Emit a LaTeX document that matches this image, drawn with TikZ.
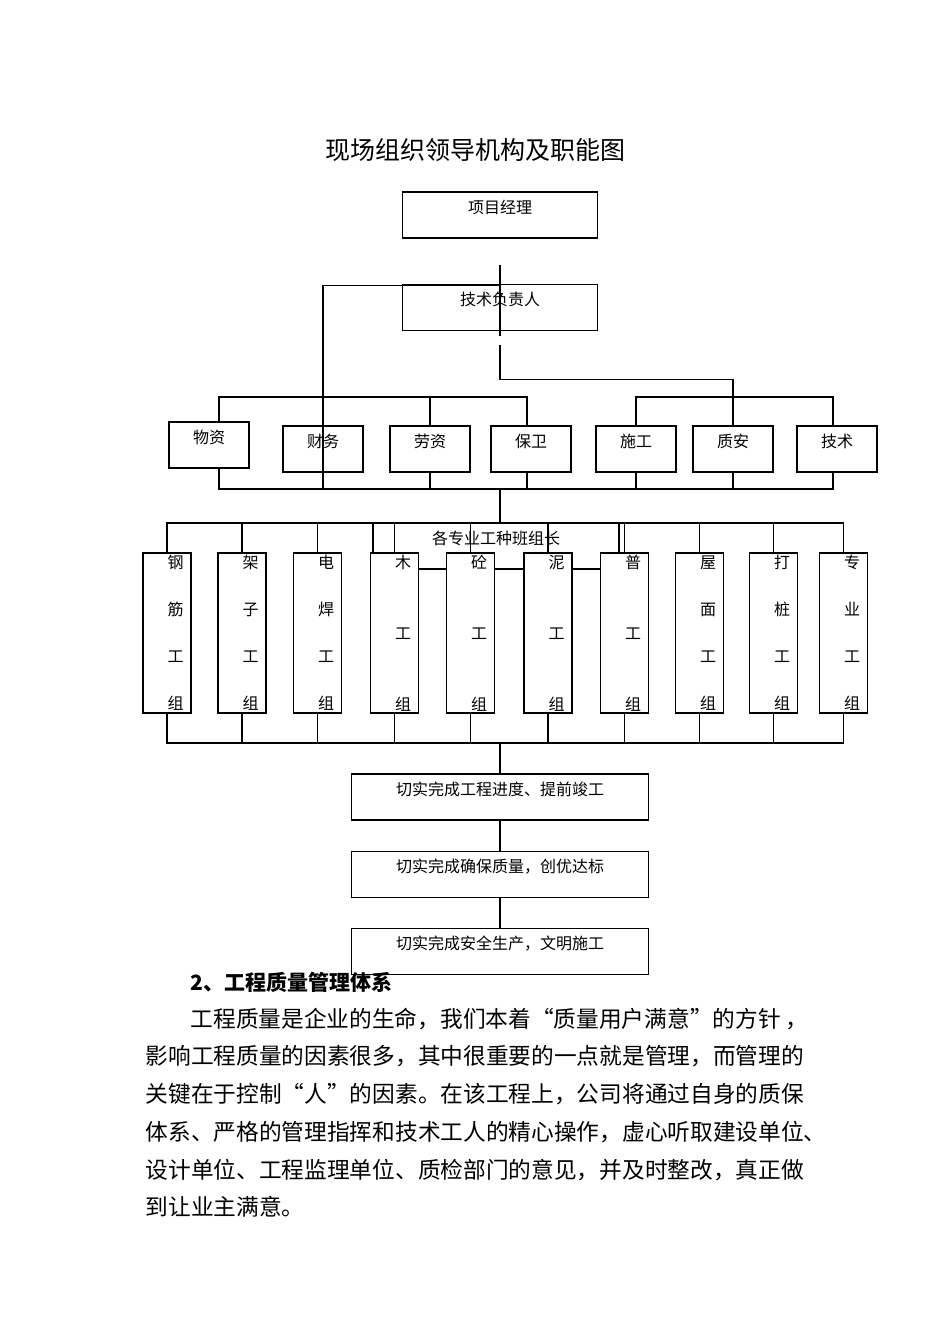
\documentclass[tikz,border=0pt]{standalone}
\usepackage{fontspec}
\setmainfont{Noto Sans CJK SC}
\usetikzlibrary{positioning,calc}

\begin{document}
\begin{tikzpicture}[x=1pt,y=-1pt,line width=1.2pt,
	box/.style={draw, rectangle, inner xsep=0pt, inner ysep=0pt,
		text height=21pt, text depth=25pt, font=\fontsize{16}{19}\selectfont},
	worker/.style={draw, fill=white, rectangle, minimum width=48pt,
		minimum height=160pt, inner sep=0pt},
	wtext/.style={align=center, inner sep=0pt, font=\fontsize{16}{47}\selectfont},
	wtext3/.style={wtext, font=\fontsize{16}{71}\selectfont},
	body/.style={anchor=west, inner sep=0pt, font=\fontsize{22.7}{27}\selectfont}]

	\useasboundingbox (0,0) rectangle (950,1344);

	\node[font=\fontsize{25}{30}\selectfont] (title) at (475,150) {现场组织领导机构及职能图};

	\node[box,minimum width=195pt] (pm) at (500,215) {项目经理};
	\node[box,minimum width=195pt,below=45pt of pm] (tech) {技术负责人};

	\node[box,minimum width=80pt] (wz) at (209,445) {物资};
	\node[box,minimum width=80pt] (cw) at (323,449) {财务};
	\node[box,minimum width=80pt] (ly) at (430,449) {劳资};
	\node[box,minimum width=80pt] (bw) at (531,449) {保卫};
	\node[box,minimum width=80pt] (sg) at (636,449) {施工};
	\node[box,minimum width=80pt] (za) at (733,449) {质安};
	\node[box,minimum width=80pt] (js) at (837,449) {技术};

	\node[box,minimum width=246pt] (lead) at (496,546) {各专业工种班组长};

	\node[worker] (w1) at (167,633) {};
	\node[worker] (w2) at (242,633) {};
	\node[worker] (w3) at (317.5,633) {};
	\node[worker] (w4) at (394.5,633) {};
	\node[worker] (w5) at (470.5,633) {};
	\node[worker] (w6) at (548,633) {};
	\node[worker] (w7) at (624.5,633) {};
	\node[worker] (w8) at (699.5,633) {};
	\node[worker] (w9) at (773.5,633) {};
	\node[worker] (w10) at (843.5,633) {};

	\node[wtext] (t1) at ([xshift=8.5pt]w1.center) {钢\\筋\\工\\组};
	\node[wtext] (t2) at ([xshift=8.5pt]w2.center) {架\\子\\工\\组};
	\node[wtext] (t3) at ([xshift=8.5pt]w3.center) {电\\焊\\工\\组};
	\node[wtext3] (t4) at ([xshift=8.5pt]w4.center) {木\\工\\组};
	\node[wtext3] (t5) at ([xshift=8.5pt]w5.center) {砼\\工\\组};
	\node[wtext3] (t6) at ([xshift=8.5pt]w6.center) {泥\\工\\组};
	\node[wtext3] (t7) at ([xshift=8.5pt]w7.center) {普\\工\\组};
	\node[wtext] (t8) at ([xshift=8.5pt]w8.center) {屋\\面\\工\\组};
	\node[wtext] (t9) at ([xshift=8.5pt]w9.center) {打\\桩\\工\\组};
	\node[wtext] (t10) at ([xshift=8.5pt]w10.center) {专\\业\\工\\组};

	\node[box,minimum width=297pt] (g1) at (500,797) {切实完成工程进度、提前竣工};
	\node[box,minimum width=297pt,below=30pt of g1] (g2) {切实完成确保质量，创优达标};
	\node[box,minimum width=297pt,below=30pt of g2] (g3) {切实完成安全生产，文明施工};

	\coordinate (top1) at (500,397);
	\coordinate (bus1) at (500,489);
	\coordinate (bus2) at (500,523);
	\coordinate (bus3) at (500,743);

	\draw ([yshift=-26pt]pm.south) -- ([yshift=-5pt]tech.south);
	\draw ([yshift=-2pt]tech.north) -| (cw.center |- bus1);
	\draw ([yshift=-14pt]tech.south) -- ++(0,35) -| (za.north);

	\draw let \p1 = ([xshift=10pt]wz.north), \p2 = (top1) in (\p1) -- (\x1,\y2) -| ([xshift=-4pt]bw.north);
	\draw (ly.north) -- (ly.north |- top1);
	\draw (sg.north) -- (sg.north |- top1) -| ([xshift=-4pt]js.north);

	\draw let \p1 = ([xshift=10pt]wz.south), \p2 = (bus1) in (\p1) -- (\x1,\y2) -| ([xshift=-4pt]js.south);
	\draw (ly.south) -- (ly.south |- bus1);
	\draw let \p1 = ([xshift=-4pt]bw.south), \p2 = (bus1) in (\p1) -- (\x1,\y2);
	\draw (sg.south) -- (sg.south |- bus1);
	\draw (za.south) -- (za.south |- bus1);
	\draw (bus1) -- (bus2);

	\draw (w1.north) |- (bus2) -| (w10.north);
	\draw (w2.north) -- (w2.north |- bus2);
	\draw (w3.north) -- (w3.north |- bus2);
	\draw (w4.north) -- (w4.north |- bus2);
	\draw (w5.north) -- (w5.north |- bus2);
	\draw (w6.north) -- (w6.north |- bus2);
	\draw (w7.north) -- (w7.north |- bus2);
	\draw (w8.north) -- (w8.north |- bus2);
	\draw (w9.north) -- (w9.north |- bus2);

	\draw (w1.south) |- (bus3) -| (w10.south);
	\draw (w2.south) -- (w2.south |- bus3);
	\draw (w3.south) -- (w3.south |- bus3);
	\draw (w4.south) -- (w4.south |- bus3);
	\draw (w5.south) -- (w5.south |- bus3);
	\draw (w6.south) -- (w6.south |- bus3);
	\draw (w7.south) -- (w7.south |- bus3);
	\draw (w8.south) -- (w8.south |- bus3);
	\draw (w9.south) -- (w9.south |- bus3);

	\draw (bus3) -- (g1);
	\draw (g1) -- (g2);
	\draw (g2) -- (g3);

	\node[anchor=west, inner sep=0pt, font=\bfseries\fontsize{21}{25}\selectfont] (head) at (190,982) {2、工程质量管理体系};
	\node[body] (p1) at (190,1019) {工程质量是企业的生命，我们本着“质量用户满意”的方针 ，};
	\node[body] (p2) at (145,1056) {影响工程质量的因素很多，其中很重要的一点就是管理，而管理的};
	\node[body] (p3) at (145,1094) {关键在于控制“人”的因素。在该工程上，公司将通过自身的质保};
	\node[body] (p4) at (145,1132) {体系、严格的管理指挥和技术工人的精心操作，虚心听取建设单位、};
	\node[body] (p5) at (145,1170) {设计单位、工程监理单位、质检部门的意见，并及时整改，真正做};
	\node[body] (p6) at (145,1207) {到让业主满意。};
\end{tikzpicture}
\end{document}
